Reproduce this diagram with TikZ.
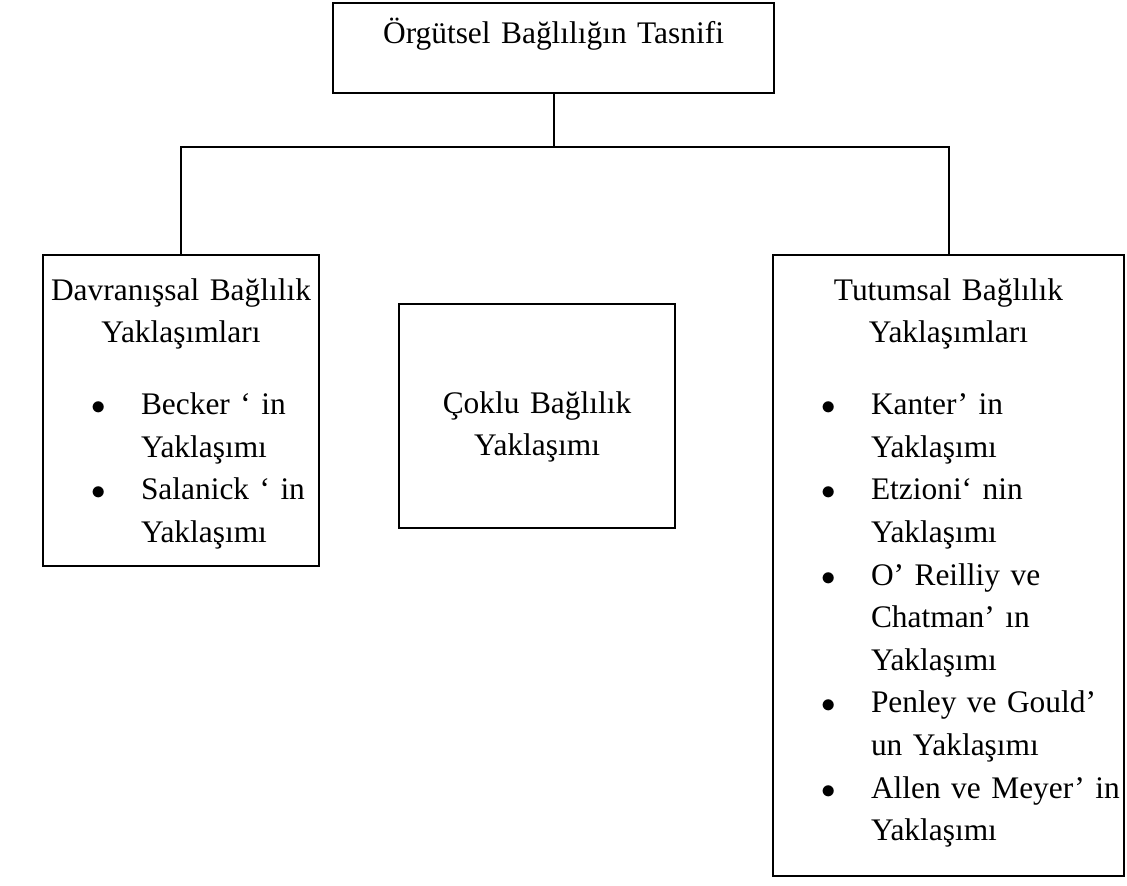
\documentclass[tikz,border=0pt]{standalone}
\usepackage{fontspec}
\setmainfont{Liberation Serif}

\newcommand{\baslik}[1]{\makebox[\linewidth]{#1}}
\newcommand{\madde}{\hspace*{22.5pt}\makebox[11pt]{$\bullet$}\hspace*{15.5pt}}
\newcommand{\devam}{\hspace*{49pt}}

\begin{document}
\begin{tikzpicture}[x=0.5pt,y=-0.5pt,
    kutu/.style={draw,line width=1pt,inner sep=0pt,anchor=north west,
      font=\fontsize{15.7pt}{21.3pt}\selectfont},
    baglanti/.style={line width=1pt}]
  \useasboundingbox (0,0) rectangle (1127,885);

  \node[kutu,text width=220.5pt,align=center,text height=20pt,text depth=25pt]
    (tasnif) at (332,2) {Örgütsel Bağlılığın Tasnifi};

  \node[kutu,text width=138pt,align=left,text height=22.5pt,text depth=133pt]
    (davranis) at (42,254) {\baslik{Davranışsal Bağlılık}\\
      \baslik{Yaklaşımları}\\[14.75pt]
      \madde Becker ‘ in\\
      \devam Yaklaşımı\\
      \madde Salanick ‘ in\\
      \devam Yaklaşımı};

  \node[kutu,text width=138pt,align=center,text height=54.5pt,text depth=57.5pt]
    (coklu) at (398,303) {Çoklu Bağlılık\\ Yaklaşımı};

  \node[kutu,text width=175.5pt,align=left,text height=22.5pt,text depth=288pt]
    (tutum) at (772,254) {\baslik{Tutumsal Bağlılık}\\
      \baslik{Yaklaşımları}\\[14.75pt]
      \madde Kanter’ in\\
      \devam Yaklaşımı\\
      \madde Etzioni‘ nin\\
      \devam Yaklaşımı\\
      \madde O’ Reilliy ve\\
      \devam Chatman’ ın\\
      \devam Yaklaşımı\\
      \madde Penley ve Gould’\\
      \devam un Yaklaşımı\\
      \madde Allen ve Meyer’ in\\
      \devam Yaklaşımı};

  \coordinate (catal) at (tasnif.south |- 0,147);
  \draw[baglanti] (tasnif.south) -- (catal);
  \draw[baglanti] (catal) -| (davranis.north);
  \draw[baglanti] (catal) -| (tutum.north);
\end{tikzpicture}
\end{document}
